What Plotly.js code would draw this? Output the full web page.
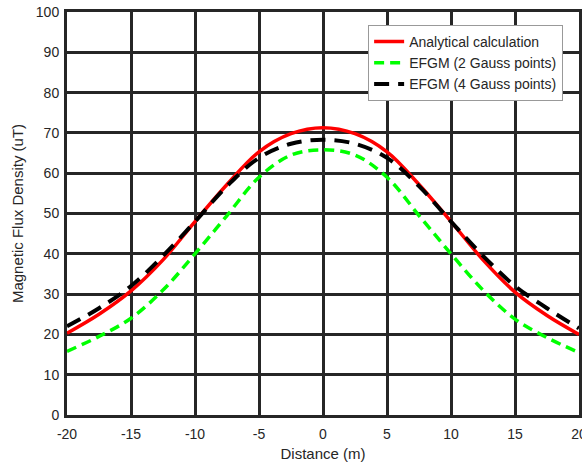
<!DOCTYPE html>
<html>
<head>
<meta charset="utf-8">
<script src="https://cdn.plot.ly/plotly-3.0.1.min.js"></script>
<style>html,body{margin:0;padding:0;background:#fff;}#chart{width:582px;height:471px;}</style>
</head>
<body>
<div id="chart"></div>
<script>
const distance = [-20, -17.5, -15, -12.5, -10, -7.5, -5, -2.5, 0, 2.5, 5, 7.5, 10, 12.5, 15, 17.5, 20];
const analytical = [20.3, 25, 30.8, 38.5, 48, 57.2, 65.3, 69.8, 71.3, 69.8, 65.3, 57.2, 48, 38.5, 30.5, 24.7, 20];
const efgm2 = [15.8, 19.5, 24, 31, 40, 49.5, 59, 64.5, 65.8, 64.5, 59, 49.5, 40, 31, 23.8, 19.2, 15.5];
const efgm4 = [22, 26.5, 32, 39.5, 48, 56.8, 63.8, 67.3, 68.3, 67.3, 63.8, 56.8, 48, 39.5, 32, 26.5, 21.5];
const seriesNames = ['Analytical calculation', 'EFGM (2 Gauss points)', 'EFGM (4 Gauss points)'];
const xTicks = [-20, -15, -10, -5, 0, 5, 10, 15, 20];
const xTickText = ['-20', '-15', '-10', '-5', '0', '5', '10', '15', '20'];
const yTicks = [0, 10, 20, 30, 40, 50, 60, 70, 80, 90, 100];

const gridColor = '#262626';
const fontFam = 'Liberation Sans, Arial, sans-serif';
const traces = [
  {x: distance, y: analytical, name: seriesNames[0], mode: 'lines',
   line: {color: '#ff0000', width: 3.5, shape: 'spline'}},
  {x: distance, y: efgm2, name: seriesNames[1], mode: 'lines',
   line: {color: '#00ff00', width: 3.5, dash: '10px,6px', shape: 'spline'}},
  {x: distance, y: efgm4, name: seriesNames[2], mode: 'lines',
   line: {color: '#000000', width: 4, dash: '15px,9px', shape: 'spline'}}
];
const axisCommon = {
  showgrid: true, gridcolor: gridColor, gridwidth: 3,
  showline: true, linecolor: gridColor, linewidth: 3, mirror: true,
  zeroline: false, ticks: '', ticklabeloverflow: 'allow',
  tickfont: {family: fontFam, size: 14, color: '#262626'}
};
const layout = {
  width: 582, height: 471,
  margin: {l: 67, r: 3, t: 12, b: 56},
  paper_bgcolor: '#fff', plot_bgcolor: '#fff',
  font: {family: fontFam, color: '#262626'},
  showlegend: true,
  legend: {x: 0.969, y: 0.968, xanchor: 'right', yanchor: 'top',
    bgcolor: '#fff', bordercolor: '#999', borderwidth: 1,
    font: {size: 14, color: '#262626'}, tracegroupgap: 0},
  xaxis: Object.assign({}, axisCommon, {range: [-20, 20], tickvals: xTicks, ticktext: xTickText,
    ticklabelstandoff: 4,
    title: {text: 'Distance (m)', font: {size: 15, color: '#262626'}, standoff: 8}}),
  yaxis: Object.assign({}, axisCommon, {range: [0, 100], tickvals: yTicks,
    ticklabelstandoff: 2,
    title: {text: 'Magnetic Flux Density (uT)', font: {size: 15, color: '#262626'}, standoff: 9}})
};
Plotly.newPlot('chart', traces, layout, {displayModeBar: false, staticPlot: true});
</script>
</body>
</html>
